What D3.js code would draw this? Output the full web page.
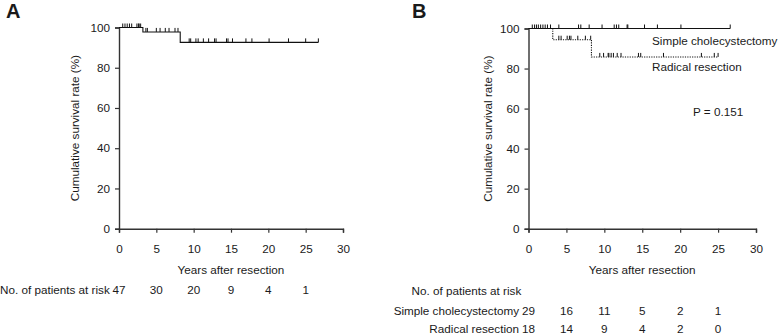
<!DOCTYPE html>
<html><head><meta charset="utf-8">
<script src="https://cdn.jsdelivr.net/npm/d3@7"></script>
<style>
body{margin:0;background:#fff;}
svg text{font-family:"Liberation Sans",Arial,sans-serif;fill:#1a1a1a;}
</style></head>
<body><svg id="c" width="778" height="334"></svg>
<script>
// ---- data ----
const xTicks = [0,5,10,15,20,25,30];
const yTicks = [0,20,40,60,80,100];
const riskTimes = [0,5,10,15,20,25];

// Panel A: overall survival (step points)
const curveA = [[0,100],[3.2,97.8],[8.2,92.6],[26.7,92.6]];
const censorA = [0.5,0.8,1.1,1.4,1.7,2.4,2.6,2.7,2.9,3.6,3.8,5.0,5.5,6.2,6.7,7.5,7.9,
  9.4,9.6,10.3,10.6,11.3,12.0,12.8,13.0,14.4,14.6,15.2,17.0,17.8,20.1,22.7,25.0,26.7];
const riskA = [47,30,20,9,4,1];

// Panel B
const curveSimple = [[0,100],[26.6,100]];
const censorSimple = [0.5,0.8,1.05,1.3,1.6,1.9,2.2,2.5,2.9,4.0,6.6,6.9,8.0,9.7,11.3,11.6,11.9,13.0,13.1,15.3,17.0,20.1,26.6];
const curveRadical = [[0,100],[3.2,94.4],[8.3,85.8],[25.0,85.8]];
const censorRadical = [4.0,4.3,5.1,5.4,5.6,6.5,7.5,8.2,9.4,9.9,10.5,10.6,10.9,11.2,11.7,12.2,14.5,14.8,17.8,22.8,24.5,25.0];
const riskSimple = [29,16,11,5,2,1];
const riskRadical = [18,14,9,4,2,0];
const groupNames = ["Simple cholecystectomy","Radical resection"];

// ---- drawing ----
const svg = d3.select("#c");
const FS = "11.7px";

function panel(x0, x1, yTop, yBot, letter, letterX, labelX) {
  const x = d3.scaleLinear().domain([0,30]).range([x0,x1]);
  const y = d3.scaleLinear().domain([0,100]).range([yBot,yTop]);
  const gx = svg.append("g").attr("transform",`translate(0,${yBot})`)
    .call(d3.axisBottom(x).tickValues(xTicks).tickSize(4).tickPadding(12));
  const gy = svg.append("g").attr("transform",`translate(${x0},0)`)
    .call(d3.axisLeft(y).tickValues(yTicks).tickSize(4).tickPadding(5));
  [gx,gy].forEach(g=>{
    g.select(".domain").attr("stroke","#333").attr("stroke-width",1.4);
    g.selectAll(".tick line").attr("stroke","#333").attr("stroke-width",1.2);
    g.selectAll(".tick text").style("font-size",FS).attr("fill","#1a1a1a");
  });
  svg.append("text").attr("x",(x0+x1)/2).attr("y",yBot+45).attr("text-anchor","middle")
    .style("font-size",FS).text("Years after resection");
  svg.append("text").attr("transform",`translate(${labelX},${(yTop+yBot)/2}) rotate(-90)`)
    .attr("text-anchor","middle").style("font-size",FS).text("Cumulative survival rate (%)");
  svg.append("text").attr("x",letterX).attr("y",18).style("font-size","20px")
    .style("font-weight","bold").text(letter);
  return {x,y};
}

function km(s, pts, censor, dashed) {
  const line = d3.line().x(d=>s.x(d[0])).y(d=>s.y(d[1])).curve(d3.curveStepAfter);
  const p = svg.append("path").attr("d",line(pts)).attr("fill","none")
    .attr("stroke","#111").attr("stroke-width",1.1);
  if (dashed) p.attr("stroke-dasharray","1.2,1.2");
  const val = t => { let v = pts[0][1]; pts.forEach(d=>{ if (d[0] <= t) v = d[1]; }); return v; };
  svg.append("g").selectAll("line").data(censor).join("line")
    .attr("x1",d=>s.x(d)).attr("x2",d=>s.x(d))
    .attr("y1",d=>s.y(val(d))).attr("y2",d=>s.y(val(d))-4)
    .attr("stroke","#111").attr("stroke-width",1);
}

// Panel A
const A = panel(119, 343, 27.5, 228.7, "A", 6, 79);
km(A, curveA, censorA, false);
svg.append("text").attr("x",0).attr("y",294).style("font-size",FS).text("No. of patients at risk");
svg.append("g").selectAll("text").data(riskA).join("text")
  .attr("x",(d,i)=>A.x(riskTimes[i])).attr("y",294).attr("text-anchor","middle")
  .style("font-size",FS).text(d=>d);

// Panel B
const B = panel(528.5, 756, 28.5, 228.7, "B", 412, 492);
km(B, curveSimple, censorSimple, false);
km(B, curveRadical, censorRadical, true);
svg.append("text").attr("x",652).attr("y",45).style("font-size",FS).text(groupNames[0]);
svg.append("text").attr("x",652).attr("y",71).style("font-size",FS).text(groupNames[1]);
svg.append("text").attr("x",693).attr("y",116).style("font-size",FS).text("P = 0.151");
svg.append("text").attr("x",411.5).attr("y",295).style("font-size",FS).text("No. of patients at risk");
[[riskSimple,315],[riskRadical,333]].forEach(([arr,yy],k)=>{
  svg.append("text").attr("x",519).attr("y",yy).attr("text-anchor","end")
    .style("font-size",FS).text(groupNames[k]);
  svg.append("g").selectAll("text").data(arr).join("text")
    .attr("x",(d,i)=>B.x(riskTimes[i])).attr("y",yy).attr("text-anchor","middle")
    .style("font-size",FS).text(d=>d);
});
</script></body></html>
